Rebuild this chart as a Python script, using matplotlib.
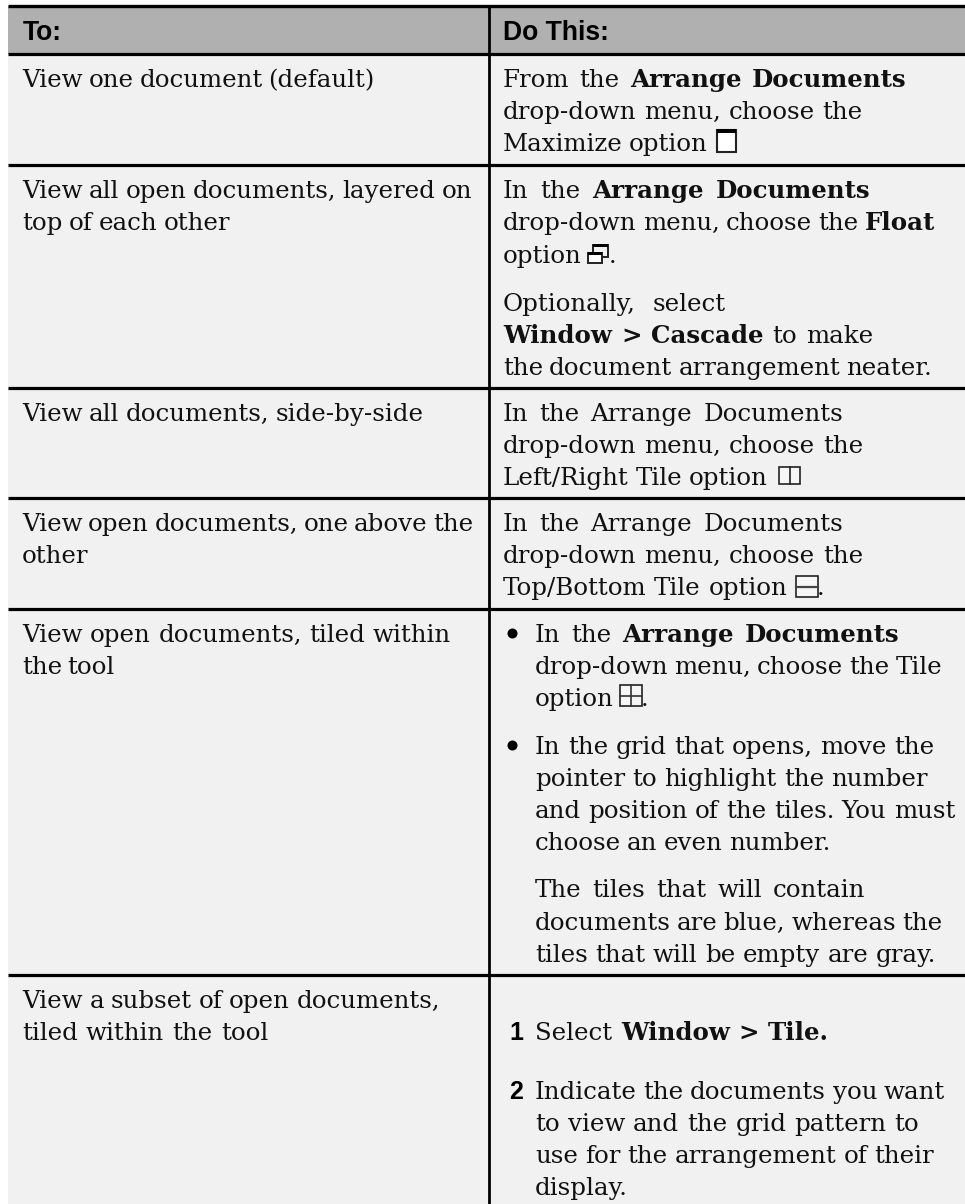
import matplotlib
matplotlib.use('Agg')
import matplotlib.pyplot as plt
from matplotlib.patches import Rectangle

# text of the table, ** marks bold words
header = ['To:', 'Do This:']

left_lines = ['View one document (default)',
              'View all open documents, layered on', 'top of each other',
              'View all documents, side-by-side',
              'View open documents, one above the', 'other',
              'View open documents, tiled within', 'the tool',
              'View a subset of open documents,', 'tiled within the tool']
left_base = [87, 198, 230, 421, 531, 563, 642, 674, 1008, 1040]
left_end = [375, 472, 230, 424, 473, 87, 451, 115, 440, 268]

right_lines = ['From the **Arrange Documents**',
               'drop-down menu, choose the',
               'Maximize option',
               'In the **Arrange Documents**',
               'drop-down menu, choose the **Float**',
               'option',
               'Optionally, select',
               '**Window > Cascade** to make',
               'the document arrangement neater.',
               'In the Arrange Documents',
               'drop-down menu, choose the',
               'Left/Right Tile option',
               'In the Arrange Documents',
               'drop-down menu, choose the',
               'Top/Bottom Tile option']
right_base = [87, 119, 151, 198, 230, 263, 311, 343, 375, 421, 453, 485, 531, 563, 595]
right_end = [906, 862, 708, 870, 935, 578, 726, 873, 932, 843, 863, 768, 843, 863, 787]

indent_lines = ['In the **Arrange Documents**',
                'drop-down menu, choose the Tile',
                'option',
                'In the grid that opens, move the',
                'pointer to highlight the number',
                'and position of the tiles. You must',
                'choose an even number.',
                'The tiles that will contain',
                'documents are blue, whereas the',
                'tiles that will be empty are gray.',
                'Select **Window > Tile.**',
                'Indicate the documents you want',
                'to view and the grid pattern to',
                'use for the arrangement of their',
                'display.']
indent_base = [642, 674, 706, 754, 786, 818, 850, 897, 930, 962, 1040, 1099, 1131, 1163, 1195]
indent_end = [899, 942, 610, 934, 928, 955, 830, 865, 942, 936, 829, 945, 919, 934, 628]

row_lines = [54, 165, 388, 498, 609, 975]
bullet_y = [633, 745]
steps = ['1', '2']
steps_base = [1040, 1099]

px = 72 / 100
text_size = 24.5 * px

fig = plt.figure(figsize=(9.65, 12.04), dpi=100, facecolor='white')
ax = fig.add_axes([0, 0, 1, 1])
ax.set_xlim(0, 965)
ax.set_ylim(1204, 0)
ax.axis('off')
rend = fig.canvas.get_renderer()


def put_line(line, x0, x1, y):
    # words go one by one so the line ends where it does in the original
    words = []
    for i, part in enumerate(line.split('**')):
        for w in part.split():
            t = ax.text(x0, y, w, family='DejaVu Serif', size=text_size, color='#111111',
                        weight='bold' if i % 2 else 'normal', va='baseline', ha='left')
            words.append((t, t.get_window_extent(rend).width))
    total = sum(w for _, w in words)
    gap = (x1 - x0 - total) / max(len(words) - 1, 1)
    x = x0
    for t, w in words:
        t.set_x(x)
        x += w + gap


def icon(x0, y0, x1, y1, lw=1.6, fill='white'):
    ax.add_patch(Rectangle((x0, y0), x1 - x0, y1 - y0, fc=fill, ec='#222222', lw=lw, zorder=3))


# backgrounds
ax.add_patch(Rectangle((8, 6), 957, 48, fc='#b0b0b0', ec='none'))
ax.add_patch(Rectangle((8, 54), 957, 1150, fc='#f1f1f1', ec='none'))

# rules
ax.plot([8, 965], [6, 6], color='black', lw=2.4, solid_capstyle='butt')
for y in row_lines:
    ax.plot([8, 965], [y, y], color='black', lw=2.3, solid_capstyle='butt')
ax.plot([489, 489], [6, 1204], color='black', lw=2.0, solid_capstyle='butt')

# header
ax.text(23, 40, header[0], family='Liberation Sans', weight='bold', size=26.5 * px, va='baseline', color='black')
ax.text(503, 40, header[1], family='Liberation Sans', weight='bold', size=26.5 * px, va='baseline', color='black')

for line, y, x1 in zip(left_lines, left_base, left_end):
    put_line(line, 22, x1, y)
for line, y, x1 in zip(right_lines, right_base, right_end):
    put_line(line, 503, x1, y)
for line, y, x1 in zip(indent_lines, indent_base, indent_end):
    put_line(line, 535, x1, y)

# bullets and step numbers
ax.scatter([512, 512], bullet_y, s=52, color='black', linewidths=0, zorder=3)
for s, y in zip(steps, steps_base):
    ax.text(516, y, s, family='Liberation Sans', weight='bold', size=25 * px, va='baseline', ha='center', color='black')

# little window icons
icon(717, 130, 736, 152, lw=1.5)
ax.add_patch(Rectangle((717, 129), 19, 4, fc='black', ec='none', zorder=4))

icon(593, 245, 608, 257, lw=1.4, fill='#f1f1f1')
ax.add_patch(Rectangle((593, 244), 15, 3, fc='black', ec='none', zorder=4))
icon(588, 253, 602, 263, lw=1.4)
ax.add_patch(Rectangle((588, 252), 14, 3, fc='black', ec='none', zorder=4))
ax.text(609, 263, '.', family='DejaVu Serif', size=text_size, va='baseline', color='#111111')

icon(779, 467, 800, 484, lw=1.2, fill='#f6f6f6')
ax.plot([789.5, 789.5], [467, 484], color='#222222', lw=1.2, zorder=4)

icon(796, 576, 818, 597, lw=1.2, fill='#f6f6f6')
ax.plot([796, 818], [586.5, 586.5], color='#444444', lw=1.6, zorder=4)
ax.text(817, 595, '.', family='DejaVu Serif', size=text_size, va='baseline', color='#111111')

icon(620, 685, 642, 706, lw=1.2, fill='#f6f6f6')
ax.plot([620, 642], [695.5, 695.5], color='#333333', lw=1.2, zorder=4)
ax.plot([631, 631], [685, 706], color='#333333', lw=1.2, zorder=4)
ax.text(641, 706, '.', family='DejaVu Serif', size=text_size, va='baseline', color='#111111')

fig.savefig('out.png', dpi=100)
